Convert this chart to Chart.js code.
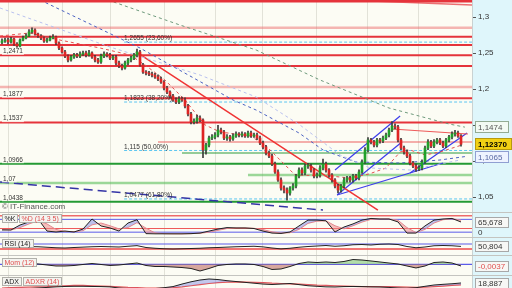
<!DOCTYPE html>
<html>
<head>
<meta charset="utf-8">
<script src="https://cdn.jsdelivr.net/npm/chart.js@4.4.1/dist/chart.umd.min.js"></script>
<style>
  body { margin: 0; width: 512px; height: 288px; overflow: hidden; position: relative; background: #fcfcf4; }
  canvas { position: absolute; left: 0; }
</style>
</head>
<body>
<canvas id="main" width="512" height="212" style="top:0"></canvas>
<canvas id="stoch" width="512" height="25" style="top:212px"></canvas>
<canvas id="rsi" width="512" height="18" style="top:237px"></canvas>
<canvas id="mom" width="512" height="20" style="top:255px"></canvas>
<canvas id="adx" width="512" height="13" style="top:275px"></canvas>
<script>
// daily candles, index 0..153
const firstOpen = 1.2650;
const closes = [
  1.2671, 1.2684, 1.2657, 1.2698, 1.2629, 1.2601, 1.2684, 1.2712, 1.2740, 1.2796,
  1.2823, 1.2768, 1.2740, 1.2712, 1.2671, 1.2684, 1.2712, 1.2726, 1.2643, 1.2573,
  1.2518, 1.2462, 1.2407, 1.2448, 1.2476, 1.2462, 1.2490, 1.2504, 1.2476, 1.2504,
  1.2448, 1.2407, 1.2379, 1.2462, 1.2490, 1.2476, 1.2434, 1.2448, 1.2365, 1.2323,
  1.2296, 1.2365, 1.2407, 1.2434, 1.2476, 1.2518, 1.2337, 1.2240, 1.2226, 1.2212,
  1.2198, 1.2171, 1.2143, 1.2101, 1.2018, 1.1962, 1.1907, 1.1851, 1.1823, 1.1865,
  1.1851, 1.1768, 1.1657, 1.1546, 1.1559, 1.1601, 1.1573, 1.1157, 1.1226, 1.1323,
  1.1337, 1.1365, 1.1434, 1.1407, 1.1323, 1.1337, 1.1309, 1.1351, 1.1379, 1.1365,
  1.1379, 1.1351, 1.1393, 1.1351, 1.1365, 1.1323, 1.1254, 1.1198, 1.1115, 1.1073,
  1.0962, 1.0851, 1.0740, 1.0629, 1.0601, 1.0559, 1.0629, 1.0657, 1.0796, 1.0879,
  1.0837, 1.0934, 1.0934, 1.0879, 1.0796, 1.0809, 1.0907, 1.0962, 1.0879, 1.0809,
  1.0740, 1.0657, 1.0601, 1.0657, 1.0740, 1.0768, 1.0740, 1.0796, 1.0768, 1.0851,
  1.0990, 1.1157, 1.1296, 1.1268, 1.1226, 1.1296, 1.1282, 1.1323, 1.1365, 1.1434,
  1.1490, 1.1476, 1.1296, 1.1184, 1.1129, 1.1073, 1.0976, 1.0934, 1.0893, 1.0907,
  1.0990, 1.1184, 1.1268, 1.1212, 1.1268, 1.1296, 1.1254, 1.1212, 1.1296, 1.1337,
  1.1379, 1.1393, 1.1351, 1.1237
];
const highs = [
  1.270, 1.271, 1.271, 1.272, 1.271, 1.265, 1.270, 1.274, 1.277, 1.283,
  1.2855, 1.284, 1.278, 1.276, 1.273, 1.271, 1.274, 1.276, 1.274, 1.266,
  1.259, 1.254, 1.248, 1.247, 1.250, 1.250, 1.252, 1.253, 1.253, 1.254,
  1.252, 1.247, 1.243, 1.249, 1.252, 1.251, 1.250, 1.247, 1.247, 1.239,
  1.235, 1.239, 1.243, 1.246, 1.250, 1.256, 1.254, 1.236, 1.226, 1.225,
  1.224, 1.222, 1.220, 1.217, 1.212, 1.204, 1.198, 1.193, 1.188, 1.190,
  1.189, 1.188, 1.179, 1.168, 1.159, 1.164, 1.163, 1.159, 1.125, 1.135,
  1.137, 1.140, 1.150, 1.146, 1.143, 1.137, 1.136, 1.138, 1.141, 1.140,
  1.141, 1.140, 1.142, 1.142, 1.139, 1.139, 1.135, 1.128, 1.122, 1.114,
  1.110, 1.099, 1.088, 1.077, 1.066, 1.063, 1.065, 1.069, 1.082, 1.091,
  1.091, 1.096, 1.097, 1.096, 1.090, 1.084, 1.094, 1.103, 1.099, 1.090,
  1.083, 1.076, 1.068, 1.068, 1.077, 1.079, 1.079, 1.082, 1.082, 1.088,
  1.102, 1.119, 1.133, 1.132, 1.129, 1.132, 1.132, 1.135, 1.139, 1.146,
  1.155, 1.152, 1.150, 1.132, 1.121, 1.116, 1.110, 1.100, 1.096, 1.094,
  1.102, 1.121, 1.130, 1.129, 1.130, 1.132, 1.132, 1.128, 1.132, 1.136,
  1.141, 1.143, 1.142, 1.137
];
const lows = [
  1.263, 1.265, 1.263, 1.264, 1.261, 1.258, 1.259, 1.267, 1.270, 1.273,
  1.278, 1.275, 1.272, 1.269, 1.265, 1.265, 1.267, 1.270, 1.262, 1.255,
  1.250, 1.244, 1.238, 1.239, 1.243, 1.244, 1.244, 1.247, 1.245, 1.246,
  1.243, 1.238, 1.236, 1.236, 1.244, 1.245, 1.241, 1.241, 1.234, 1.230,
  1.227, 1.228, 1.234, 1.238, 1.241, 1.245, 1.232, 1.222, 1.220, 1.219,
  1.217, 1.215, 1.212, 1.208, 1.199, 1.194, 1.188, 1.183, 1.180, 1.180,
  1.183, 1.174, 1.163, 1.152, 1.152, 1.153, 1.155, 1.105, 1.110, 1.120,
  1.130, 1.131, 1.134, 1.138, 1.130, 1.129, 1.128, 1.129, 1.133, 1.134,
  1.134, 1.133, 1.133, 1.133, 1.133, 1.130, 1.123, 1.117, 1.109, 1.105,
  1.094, 1.083, 1.072, 1.060, 1.056, 1.046, 1.053, 1.060, 1.063, 1.077,
  1.081, 1.081, 1.090, 1.085, 1.077, 1.077, 1.078, 1.088, 1.085, 1.078,
  1.071, 1.063, 1.056, 1.057, 1.063, 1.071, 1.071, 1.071, 1.074, 1.074,
  1.083, 1.097, 1.113, 1.124, 1.120, 1.120, 1.125, 1.126, 1.130, 1.134,
  1.141, 1.145, 1.127, 1.116, 1.110, 1.105, 1.095, 1.091, 1.086, 1.087,
  1.088, 1.097, 1.116, 1.119, 1.119, 1.124, 1.123, 1.119, 1.119, 1.127,
  1.131, 1.135, 1.133, 1.121
];
const monthStarts = [2, 20, 36, 54, 71, 87, 105, 122, 139];

// horizontal levels
const redLevels = [1.2730, 1.2615, 1.2471, 1.2323, 1.1877, 1.1537];
const pinkLevels = [1.2855, 1.2032];
const pinkShortLevel = 1.1268, pinkShortStart = 52;
const greenLevels = [1.0966, 1.0438];
const greenShortLevel = 1.1115, greenShortStart = 60;
const lightGreenLevels = [1.0700];
const lightGreenShortLevel = 1.0809, lightGreenShortStart = 82;
const fibLevels = [1.2655, 1.1823, 1.115, 1.0477];
const fibLabels = ["1,2655 (23,60%)", "1,1823 (38,20%)", "1,115 (50,00%)", "1,0477 (61,80%)"];
const fibStart = 40.7;
const leftLevels = [1.2471, 1.1877, 1.1537, 1.0966, 1.07, 1.0438];
const leftLabels = ["1,2471", "1,1877", "1,1537", "1,0966", "1,07", "1,0438"];

// drawn trend lines [index, price]
const topRed = [[-0.67, 1.3222], [156.67, 1.3222]];
const topRedSlope = [[115, 1.3240], [156.67, 1.3171]];
const redTrend = [[44.7, 1.2518], [125.3, 1.0323]];
const redResist = [[130, 1.1448], [155.3, 1.1379]];
const blueUpper = [[111, 1.0879], [132.7, 1.1629]];
const blueLower = [[111.7, 1.0532], [133.3, 1.1268]];
const blueWide = [[111.7, 1.0532], [147, 1.0976]];
const blueSecond = [[136, 1.0837], [155, 1.1393]];
const blueLongDash = [[-0.67, 1.0712], [107, 1.0323]];

// moving averages
const maGreen = [[35.3, 1.3240], [59.3, 1.2893], [84.7, 1.2546], [106, 1.2129], [129, 1.1740], [149, 1.1518], [154.3, 1.1474]];
const maBlue = [[12.7, 1.3240], [46, 1.2573], [77, 1.1851], [84.7, 1.1712], [99, 1.1393], [107, 1.1157], [118, 1.0990], [132.7, 1.0976], [146, 1.1018], [154.3, 1.1065]];
const maLavender = [[-0.67, 1.3129], [36, 1.2587], [66, 1.2198], [84.7, 1.1893], [99.3, 1.1504], [112.7, 1.1087], [122.7, 1.0907], [136, 1.0879], [152.7, 1.1018]];
const maRed = [[-0.67, 1.2740], [9.3, 1.2782], [19.3, 1.2684], [32.7, 1.2573], [42.7, 1.2476], [47.7, 1.2337], [54.3, 1.2129], [61, 1.1851], [67.7, 1.1504], [72.7, 1.1407], [82.7, 1.1351], [87.7, 1.1226], [92.7, 1.1018], [97.7, 1.0809], [109.3, 1.0796], [115.7, 1.0768], [122.3, 1.0823], [128, 1.0907], [132.7, 1.1129], [136, 1.1157], [141, 1.1087], [146, 1.1129], [153.3, 1.1226]];

const rightBoxValues = [1.1474, 1.1237, 1.1065];
const rightBoxTexts = ["1,1474", "1,12370", "1,1065"];

// oscillators, sampled every 3rd candle
const oscIdx = [0, 3, 6, 9, 12, 15, 18, 21, 24, 27, 30, 33, 36, 39, 42, 45, 48, 51, 54, 57, 60, 63, 66, 69, 72, 75,
  78, 81, 84, 87, 90, 93, 96, 99, 102, 105, 108, 111, 114, 117, 120, 123, 126, 129, 132, 135, 138, 141, 144, 147, 150, 153];
const stochK = [22, 22, 49, 66, 82, 16, 11, 16, 11, 27, 82, 44, 33, 16, 60, 78, 2, 1, 1, 1, 1, 2, 5, 16, 27, 35,
  33, 33, 30, 16, 5, 3, 11, 44, 76, 76, 72, 11, 38, 55, 76, 85, 82, 82, 66, 5, 5, 44, 76, 82, 85, 65.678];
const stochD = [25, 22, 35, 55, 72, 55, 25, 14, 13, 18, 50, 60, 45, 28, 35, 62, 32, 6, 2, 1, 1, 2, 4, 10, 20, 30,
  33, 33, 31, 24, 12, 5, 7, 25, 58, 70, 72, 45, 28, 45, 65, 80, 82, 82, 75, 35, 8, 25, 60, 78, 83, 76];
const stochLines = [100, 80, 30, 10];
const rsiVals = [46, 47, 48, 49, 48, 44, 40, 38, 42, 45, 48, 50, 48, 46, 52, 57, 42, 36, 32, 30, 32, 34, 36, 40, 42, 45,
  48, 50, 52, 47, 38, 31, 36, 44, 50, 54, 58, 52, 56, 64, 66, 62, 68, 70, 66, 50, 40, 46, 56, 58, 56, 50.804];
const rsiLines = [70, 30];
const momVals = [-0.0004, -0.0004, 0.0007, 0.0017, 0.0007, -0.0015, -0.0037, -0.0037, -0.0026, -0.0004, 0.0017, -0.0004, -0.0026,
  -0.0015, 0.0007, 0.0028, -0.0026, -0.0048, -0.0048, -0.0059, -0.0070, -0.0091, -0.0146, -0.0091, -0.0026, -0.0004,
  0.0007, 0.0007, -0.0004, -0.0048, -0.0113, -0.0102, -0.0048, 0.0017, 0.0050, 0.0039, 0.0050, 0.0039, 0.0061,
  0.0104, 0.0093, 0.0072, 0.0050, 0.0028, 0.0007, -0.0037, -0.0080, -0.0037, 0.0039, 0.0050, 0.0028, -0.0037];
const adxVals = [9, 9, 9, 9, 10, 11, 12, 12.7, 13, 13, 12.7, 12.5, 12, 10, 9, 8, 8, 9, 10.5, 12.5, 17, 21, 24.2, 26, 25, 23,
  21.5, 20, 18.5, 17, 16.2, 17, 18, 16, 14, 13, 12, 11.8, 12.5, 12.7, 12.5, 12, 11.8, 11, 10, 9.5, 10.5, 13, 15.3, 16.5, 17.5, 18.887];
const adxrVals = [10, 10.5, 11, 11.5, 12, 12.5, 13.5, 14, 14.5, 14.5, 14, 13.5, 13, 12, 11, 10.5, 10, 10, 10, 10.5, 12, 14,
  16, 18, 19.5, 20.5, 21, 20.5, 20, 19.5, 18.5, 18, 17.5, 17, 16, 15, 14.5, 14, 13.5, 13, 12.5, 12.5, 12.5, 12.5, 12,
  11.5, 11, 11.5, 12.5, 13.5, 14.5, 15.5];

const xMin = -0.667, xMax = 156.667;
const FONT = '"Liberation Sans", Arial, sans-serif';

function seg(points, color, width, dash, order) {
  return {
    type: "line",
    data: points.map((p) => ({ x: p[0], y: p[1] })),
    borderColor: color,
    borderWidth: width,
    borderDash: dash || [],
    pointRadius: 0,
    fill: false,
    tension: 0,
    order: order === undefined ? 5 : order,
  };
}
function level(price, from, color, width, dash) {
  return seg([[from, price], [xMax, price]], color, width, dash, 6);
}
function oscLine(vals, color, width, extra) {
  return Object.assign({
    type: "line",
    data: vals.map((v, i) => ({ x: oscIdx[i], y: v })),
    borderColor: color,
    borderWidth: width,
    pointRadius: 0,
    tension: 0,
    fill: false,
  }, extra || {});
}

function xScale() {
  return {
    type: "linear",
    min: xMin,
    max: xMax,
    offset: false,
    afterBuildTicks: (s) => { s.ticks = monthStarts.map((v) => ({ value: v })); },
    afterFit: (s) => { s.height = 0; },
    ticks: { display: false },
    grid: { color: "#e2e2d8", drawTicks: false, offset: false },
    border: { display: false },
  };
}

const background = {
  id: "background",
  beforeDraw(chart) {
    const { ctx, chartArea: a, width, height } = chart;
    ctx.save();
    ctx.fillStyle = "#fcfcf4";
    ctx.fillRect(0, 0, width, height);
    ctx.fillStyle = "#dff6fb";
    ctx.fillRect(a.right, 0, width - a.right, height);
    ctx.restore();
  },
};

function box(ctx, x, y, w, h, fill, stroke) {
  ctx.fillStyle = fill;
  ctx.fillRect(x, y, w, h);
  ctx.strokeStyle = stroke;
  ctx.lineWidth = 1;
  ctx.strokeRect(x + 0.5, y + 0.5, w - 1, h - 1);
}

function baseOptions(yCfg) {
  return {
    responsive: false,
    animation: false,
    devicePixelRatio: 1,
    events: [],
    layout: { padding: 0 },
    plugins: { legend: { display: false }, tooltip: { enabled: false } },
    scales: { x: xScale(), y: yCfg },
  };
}

// ---------- main price panel ----------
const opens = closes.map((c, i) => (i ? closes[i - 1] : firstOpen));
const wickData = closes.map((c, i) => ({ x: i, y: [lows[i], highs[i]] }));
const upData = [];
const downData = [];
closes.forEach((c, i) => {
  (c >= opens[i] ? upData : downData).push({ x: i, y: [opens[i], c] });
});

const mainSets = [];
redLevels.forEach((v) => mainSets.push(level(v, xMin, "#e5333b", 2)));
pinkLevels.forEach((v) => mainSets.push(level(v, xMin, "rgba(236,110,110,0.5)", 2.5)));
mainSets.push(level(pinkShortLevel, pinkShortStart, "rgba(236,110,110,0.55)", 2));
greenLevels.forEach((v) => mainSets.push(level(v, xMin, "#249a34", 1.8)));
mainSets.push(level(greenShortLevel, greenShortStart, "#2f9a3c", 1.2));
lightGreenLevels.forEach((v) => mainSets.push(level(v, xMin, "rgba(90,190,90,0.6)", 2.5)));
mainSets.push(level(lightGreenShortLevel, lightGreenShortStart, "rgba(90,190,90,0.6)", 2.5));
fibLevels.forEach((v) => mainSets.push(level(v, fibStart, "#5cc6f0", 1, [3, 2])));
mainSets.push(seg(topRed, "#e5333b", 2.5));
mainSets.push(seg(topRedSlope, "rgba(229,51,59,0.7)", 1.5));
mainSets.push(seg(maLavender, "#b9c1ef", 1, [3, 3]));
mainSets.push(seg(maGreen, "#6e9a7c", 1, [3, 3]));
mainSets.push(seg(maBlue, "#4b62c2", 1, [3, 3]));
mainSets.push(seg(maRed, "#e65050", 1, [3, 3]));
mainSets.push(seg(redTrend, "#f03434", 1.5));
mainSets.push(seg(redResist, "#ee5a5a", 1.2));
mainSets.push(seg(blueUpper, "#3c3ceb", 1.2));
mainSets.push(seg(blueLower, "#3c3ceb", 1.2));
mainSets.push(seg(blueWide, "#3c3ceb", 1.2));
mainSets.push(seg(blueSecond, "#3c3ceb", 1.2));
mainSets.push(seg(blueLongDash, "#3434a6", 1.5, [9, 5]));
mainSets.push({ type: "bar", data: wickData, backgroundColor: "#3a3a3a", barThickness: 1, grouped: false, order: 1 });
mainSets.push({ type: "bar", data: upData, backgroundColor: "#21a02a", barThickness: 2, grouped: false, minBarLength: 1, order: 0 });
mainSets.push({ type: "bar", data: downData, backgroundColor: "#de2424", barThickness: 2, grouped: false, minBarLength: 1, order: 0 });

const mainDecor = {
  id: "mainDecor",
  afterDatasetsDraw(chart) {
    const { ctx, scales: { x, y } } = chart;
    ctx.save();
    ctx.textBaseline = "middle";
    ctx.font = "6.5px " + FONT;
    leftLevels.forEach((v, i) => {
      const py = y.getPixelForValue(v) - 4;
      const w = ctx.measureText(leftLabels[i]).width;
      ctx.fillStyle = "rgba(252,252,244,0.8)";
      ctx.fillRect(2, py - 3.5, w + 2, 7);
      ctx.fillStyle = "#333";
      ctx.fillText(leftLabels[i], 3, py);
    });
    fibLevels.forEach((v, i) => {
      ctx.fillStyle = "#333";
      ctx.fillText(fibLabels[i], x.getPixelForValue(fibStart), y.getPixelForValue(v) - 3.5);
    });
    ctx.font = "8px " + FONT;
    ctx.fillStyle = "#555";
    ctx.fillText("\u00a9 IT-Finance.com", 2, 207);
    ctx.restore();
  },
  afterDraw(chart) {
    const { ctx, scales: { y } } = chart;
    const styles = [
      { fill: "#f3faf3", stroke: "#93ab93", color: "#555", bold: false },
      { fill: "#f2d013", stroke: "#b89a0c", color: "#000", bold: true },
      { fill: "#eef3ff", stroke: "#909fd2", color: "#5868a4", bold: false },
    ];
    ctx.save();
    ctx.textBaseline = "middle";
    rightBoxValues.forEach((v, i) => {
      const s = styles[i];
      const py = Math.round(y.getPixelForValue(v));
      box(ctx, 475, py - 6, i === 1 ? 37 : 34, 12, s.fill, s.stroke);
      ctx.font = (s.bold ? "bold " : "") + "8px " + FONT;
      ctx.fillStyle = s.color;
      ctx.fillText(rightBoxTexts[i], 478, py + 0.5);
    });
    ctx.restore();
  },
};

const mainOpts = baseOptions({
  position: "right",
  min: 1.02956,
  max: 1.324,
  afterFit: (s) => { s.width = 40; s.paddingTop = 0; s.paddingBottom = 0; },
  ticks: {
    stepSize: 0.05,
    includeBounds: false,
    color: "#333",
    padding: 2,
    font: { family: "Liberation Sans", size: 8 },
    callback: (v) => String(+v.toFixed(2)).replace(".", ","),
  },
  grid: { drawOnChartArea: false, tickLength: 4, color: "#555" },
  border: { display: true, color: "#c9d2d2" },
});

new Chart(document.getElementById("main"), {
  type: "bar",
  data: { datasets: mainSets },
  options: mainOpts,
  plugins: [background, mainDecor],
});

// ---------- indicator panels ----------
function panelDecor(labels, labelTop, rightItems) {
  return {
    id: "panelDecor",
    afterDraw(chart) {
      const { ctx, scales: { y }, width } = chart;
      ctx.save();
      ctx.fillStyle = "#c4c4c0";
      ctx.fillRect(0, 0, width, 1);
      ctx.font = "7px " + FONT;
      ctx.textBaseline = "middle";
      let bx = 2;
      labels.forEach(([t, c]) => {
        const w = Math.ceil(ctx.measureText(t).width) + 5;
        box(ctx, bx, labelTop, w, 9, "#f4f4f0", "#b0b0aa");
        ctx.fillStyle = c;
        ctx.fillText(t, bx + 2.5, labelTop + 5);
        bx += w + 1;
      });
      rightItems.forEach((it) => {
        const py = Math.round(y.getPixelForValue(it.v));
        ctx.font = "8px " + FONT;
        if (it.box) box(ctx, 475, py - 5, 34, 11, "#f7f7f5", "#a8a8a8");
        ctx.fillStyle = it.color;
        ctx.fillText(it.text, 478, py + 0.5);
      });
      ctx.restore();
    },
  };
}
function panelY(min, max) {
  return {
    position: "right",
    min,
    max,
    afterFit: (s) => { s.width = 40; s.paddingTop = 0; s.paddingBottom = 0; },
    ticks: { display: false },
    grid: { display: false },
    border: { display: true, color: "#c9d2d2" },
  };
}
function hLine(v, color, width) {
  return seg([[xMin, v], [xMax, v]], color, width);
}

// Stochastic
new Chart(document.getElementById("stoch"), {
  type: "line",
  data: {
    datasets: [
      hLine(stochLines[0], "#ee6a6a", 1.5),
      hLine(stochLines[1], "#5b5bea", 1),
      hLine(stochLines[2], "#ee5a5a", 1.2),
      hLine(stochLines[3], "#5b5bea", 1),
      oscLine(stochK, "#222", 1, {
        fill: { target: "+1", above: "rgba(110,120,225,0.45)", below: "rgba(238,140,140,0.55)" },
      }),
      oscLine(stochD, "#ec8a8a", 1),
    ],
  },
  options: baseOptions(panelY(-16.4, 120.2)),
  plugins: [background, panelDecor([["%K", "#222"], ["%D (14 3 5)", "#e05050"]], 2,
    [{ v: 65.678, text: "65,678", color: "#333", box: true }, { v: 9, text: "0", color: "#333", box: false }])],
});

// RSI
new Chart(document.getElementById("rsi"), {
  type: "line",
  data: {
    datasets: [
      hLine(rsiLines[0], "#5b5bea", 1.2),
      hLine(rsiLines[1], "#ee4a4a", 1.5),
      oscLine(rsiVals, "#222", 1),
    ],
  },
  options: baseOptions(panelY(-18, 126)),
  plugins: [background, panelDecor([["RSI (14)", "#222"]], 2,
    [{ v: 50.804, text: "50,804", color: "#333", box: true }])],
});

// Momentum
new Chart(document.getElementById("mom"), {
  type: "line",
  data: {
    datasets: [
      hLine(0, "#5b5bea", 1.2),
      oscLine(momVals, "#222", 1, {
        fill: { target: { value: 0 }, above: "rgba(130,200,120,0.6)", below: "rgba(190,110,100,0.6)" },
      }),
    ],
  },
  options: baseOptions(panelY(-0.02326, 0.0202)),
  plugins: [background, panelDecor([["Mom (12)", "#e05050"]], 3,
    [{ v: -0.0037, text: "-0,0037", color: "#e05050", box: true }])],
});

// ADX / ADXR
new Chart(document.getElementById("adx"), {
  type: "line",
  data: {
    datasets: [
      oscLine(adxVals, "#222", 1, {
        fill: { target: "+1", above: "rgba(110,120,225,0.4)", below: "rgba(238,140,140,0.45)" },
      }),
      oscLine(adxrVals, "#e65050", 1.2),
    ],
  },
  options: baseOptions(panelY(10, 33.1)),
  plugins: [background, panelDecor([["ADX", "#222"], ["ADXR (14)", "#e05050"]], 2,
    [{ v: 18.887, text: "18,887", color: "#333", box: true }])],
});
</script>
</body>
</html>
